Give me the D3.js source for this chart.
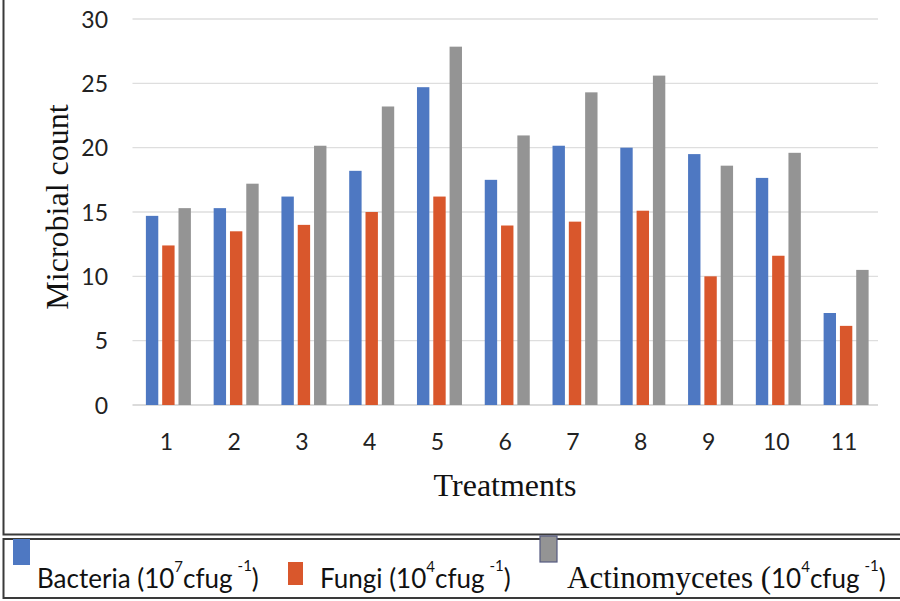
<!DOCTYPE html>
<html>
<head>
<meta charset="utf-8">
<script src="https://cdn.jsdelivr.net/npm/d3@7"></script>
<style>
  html, body { margin: 0; padding: 0; background: #fff; }
  svg { display: block; }
</style>
</head>
<body>
<svg id="chart" width="900" height="601"></svg>
<script>
// Microbial counts per treatment
const treatments = ["1", "2", "3", "4", "5", "6", "7", "8", "9", "10", "11"];
const bacteria = [14.7, 15.3, 16.2, 18.2, 24.7, 17.5, 20.15, 20.0, 19.5, 17.65, 7.15];
const fungi = [12.4, 13.5, 14.0, 15.0, 16.2, 13.95, 14.25, 15.1, 10.0, 11.6, 6.15];
const actinomycetes = [15.3, 17.2, 20.15, 23.2, 27.85, 20.95, 24.3, 25.6, 18.6, 19.6, 10.5];
const yTicks = [0, 5, 10, 15, 20, 25, 30];

const seriesNames = ["Bacteria", "Fungi", "Actinomycetes"];
const seriesData = [bacteria, fungi, actinomycetes];
const colors = ["#4e78c2", "#d9572c", "#949494"];

const svg = d3.select("#chart");
const sans = "Lato, 'Open Sans', sans-serif";
const serif = "'Liberation Serif', 'DejaVu Serif', serif";

const x = d3.scaleBand().domain(treatments).range([132.5, 878]).paddingInner(0).paddingOuter(0);
const xs = d3.scaleBand().domain(d3.range(3)).range([-20.5, 24.5]).paddingInner(0.24);
const y = d3.scaleLinear().domain([0, 30]).range([405, 19]);

// gridlines
svg.append("g")
  .selectAll("line")
  .data(yTicks)
  .join("line")
  .attr("x1", 132.5).attr("x2", 878)
  .attr("y1", d => y(d)).attr("y2", d => y(d))
  .attr("stroke", d => d === 0 ? "#cfcfcf" : "#dedede")
  .attr("stroke-width", 1.3);

// y axis labels
const yAxis = d3.axisLeft(y).tickValues(yTicks).tickSize(0).tickPadding(0);
const gy = svg.append("g").attr("transform", "translate(108,0)").call(yAxis);
gy.select(".domain").remove();
gy.selectAll("text")
  .attr("font-family", sans).attr("font-size", 23).attr("fill", "#222")
  .attr("dy", "0.36em");

// x axis labels
const xAxis = d3.axisBottom(x).tickSize(0).tickPadding(0);
const gx = svg.append("g").attr("transform", "translate(0,434)").call(xAxis);
gx.select(".domain").remove();
gx.selectAll("text")
  .attr("font-family", sans).attr("font-size", 23).attr("fill", "#222")
  .attr("dy", "0.71em");

// bars
const groups = svg.append("g")
  .selectAll("g")
  .data(treatments)
  .join("g")
  .attr("transform", d => `translate(${x(d) + x.bandwidth() / 2},0)`);

groups.selectAll("rect")
  .data((d, i) => seriesData.map((s, k) => ({ k, v: s[i] })))
  .join("rect")
  .attr("x", d => xs(d.k))
  .attr("width", xs.bandwidth())
  .attr("y", d => y(d.v))
  .attr("height", d => y(0) - y(d.v))
  .attr("fill", d => colors[d.k]);

// axis titles
svg.append("text")
  .attr("transform", "translate(68,207) rotate(-90)")
  .attr("text-anchor", "middle")
  .attr("font-family", serif).attr("font-size", 32).attr("fill", "#111")
  .text("Microbial count");

svg.append("text")
  .attr("x", 505).attr("y", 496)
  .attr("text-anchor", "middle")
  .attr("font-family", serif).attr("font-size", 32).attr("fill", "#111")
  .text("Treatments");

// frames
const frame = svg.append("g").attr("fill", "none").attr("stroke", "#3a3a3a").attr("stroke-width", 2);
frame.append("path").attr("d", "M3.5,0 V534.5 H900");
frame.append("path").attr("d", "M900,539 H3.5 V598 H900");

// legend
const legend = svg.append("g");
const swatches = [
  { x: 13, y: 539, w: 17, h: 26 },
  { x: 288, y: 562, w: 15, h: 23 },
  { x: 540, y: 536, w: 17, h: 26 }
];
legend.selectAll("rect")
  .data(swatches)
  .join("rect")
  .attr("x", d => d.x).attr("y", d => d.y)
  .attr("width", d => d.w).attr("height", d => d.h)
  .attr("fill", (d, i) => colors[i])
  .attr("stroke", (d, i) => i === 2 ? "#555a80" : "none")
  .attr("stroke-width", 1.2);

function unitLabel(g, xPos, name, exp, nameFont, nameSize) {
  const t = g.append("text")
    .attr("x", xPos).attr("y", 588)
    .attr("font-family", sans).attr("font-size", 26).attr("fill", "#111");
  t.append("tspan").attr("font-family", nameFont).attr("font-size", nameSize).text(name + " (");
  t.append("tspan").text("10");
  t.append("tspan").attr("font-size", 15).attr("dy", -16).text(exp);
  t.append("tspan").attr("dy", 16).text("cfug");
  t.append("tspan").attr("font-size", 15).attr("dy", -17).attr("dx", 5).text("-1");
  t.append("tspan").attr("dy", 17).text(")");
}
unitLabel(legend, 37, seriesNames[0], "7", sans, 26);
unitLabel(legend, 320, seriesNames[1], "4", sans, 26);
unitLabel(legend, 567, seriesNames[2], "4", serif, 31);
</script>
</body>
</html>
